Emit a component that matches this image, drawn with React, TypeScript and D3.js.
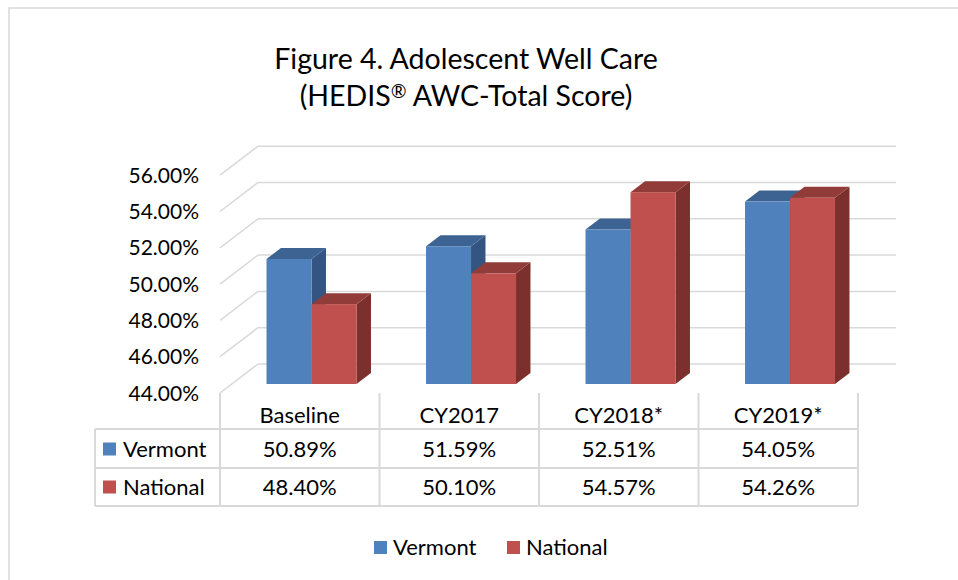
import React, { useEffect, useRef } from 'react';
import * as d3 from 'd3';

const categories = ['Baseline', 'CY2017', 'CY2018*', 'CY2019*'];
const seriesNames = ['Vermont', 'National'];
const vermont = [50.89, 51.59, 52.51, 54.05];
const national = [48.4, 50.1, 54.57, 54.26];
const yTicks = [44, 46, 48, 50, 52, 54, 56];

const FONT = "Lato, 'Open Sans', sans-serif";

const front = ['#4F81BD', '#C0504D'];
const topFace = ['#3C6391', '#923C3A'];
const sideFace = ['#345581', '#7C302E'];

const App: React.FC = () => {
 const svgRef = useRef<SVGSVGElement>(null);

 useEffect(() => {
 if (!svgRef.current) return;
 const svg = d3.select(svgRef.current);
 svg.selectAll('*').remove();

 const width = 958;
 const height = 580;
 const left = 220;
 const right = 858;
 const floorY = 393;
 const depth = { dx: 38, dy: -29 };

 svg.append('rect').attr('width', width).attr('height', height).attr('fill', '#fff');
 // chart border
 svg.append('rect').attr('x', 9).attr('y', 8).attr('width', 980).attr('height', 600)
 .attr('fill', 'none').attr('stroke', '#d9d9d9').attr('stroke-width', 1.5);

 // title
 const title = svg.append('text').attr('x', 466).attr('text-anchor', 'middle')
 .attr('font-family', FONT).attr('font-size', 28.5).attr('fill', '#000');
 title.append('tspan').attr('x', 466).attr('y', 69).text('Figure 4. Adolescent Well Care');
 const t2 = title.append('tspan').attr('x', 466).attr('y', 106);
 t2.append('tspan').text('(HEDIS');
 t2.append('tspan').attr('font-size', 19).attr('dy', -8).text('®');
 t2.append('tspan').attr('dy', 8).text(' AWC-Total Score)');

 const x = d3.scaleBand<string>().domain(categories).range([left, right]).paddingInner(0).paddingOuter(0);
 const y = d3.scaleLinear().domain([44, 56]).range([floorY, floorY - 6 * 36.3]);

 // back wall gridlines + side wall diagonals
 const grid = svg.append('g').attr('stroke', '#d9d9d9').attr('stroke-width', 1.5).attr('fill', 'none');
 yTicks.forEach((t) => {
 grid.append('line')
 .attr('x1', left + depth.dx).attr('x2', right + depth.dx)
 .attr('y1', y(t) + depth.dy).attr('y2', y(t) + depth.dy);
 grid.append('line')
 .attr('x1', left).attr('x2', left + depth.dx)
 .attr('y1', y(t)).attr('y2', y(t) + depth.dy);
 });

 // axis labels
 svg.append('g').selectAll('text').data(yTicks).enter().append('text')
 .attr('x', 199).attr('y', (d) => y(d) + 7.5)
 .attr('text-anchor', 'end').attr('font-family', FONT).attr('font-size', 21).attr('fill', '#000')
 .text((d) => d.toFixed(2) + '%');

 // bars
 const barW = 45;
 const f0 = 0.31;
 const f1 = 0.69;
 const ox = depth.dx * f0;
 const oy = depth.dy * f0;
 const bdx = depth.dx * (f1 - f0);
 const bdy = depth.dy * (f1 - f0);
 const inner = d3.scaleBand<string>().domain(seriesNames).range([0, barW * 2]);
 const data = [vermont, national];
 const bars = svg.append('g');
 categories.forEach((c, i) => {
 const cx = (x(c) as number) + x.bandwidth() / 2 + ox;
 seriesNames.forEach((s, k) => {
 const x0 = cx - barW + (inner(s) as number);
 const x1 = x0 + inner.bandwidth();
 const yt = y(data[k][i]) + oy;
 const yb = floorY + oy;
 const pts = (p: number[][]) => p.map((q) => q.join(',')).join(' ');
 bars.append('polygon').attr('fill', sideFace[k])
 .attr('points', pts([[x1, yt], [x1 + bdx, yt + bdy], [x1 + bdx, yb + bdy], [x1, yb]]));
 bars.append('polygon').attr('fill', topFace[k])
 .attr('points', pts([[x0, yt], [x1, yt], [x1 + bdx, yt + bdy], [x0 + bdx, yt + bdy]]));
 bars.append('rect').attr('x', x0).attr('y', yt).attr('width', x1 - x0).attr('height', yb - yt)
 .attr('fill', front[k]);
 });
 });

 // data table
 const tableLeft = 95;
 const rowY = [floorY, 429, 468, 506];
 const tbl = svg.append('g').attr('stroke', '#d9d9d9').attr('stroke-width', 2);
 [rowY[1], rowY[2], rowY[3]].forEach((ry) => {
 tbl.append('line').attr('x1', tableLeft).attr('x2', right).attr('y1', ry).attr('y2', ry);
 });
 tbl.append('line').attr('x1', tableLeft).attr('x2', tableLeft).attr('y1', rowY[1]).attr('y2', rowY[3]);
 [...categories.map((c) => x(c) as number), right].forEach((vx) => {
 tbl.append('line').attr('x1', vx).attr('x2', vx).attr('y1', floorY).attr('y2', rowY[3]);
 });

 const txt = svg.append('g').attr('font-family', FONT).attr('font-size', 22).attr('fill', '#000');
 categories.forEach((c, i) => {
 const mx = (x(c) as number) + x.bandwidth() / 2;
 txt.append('text').attr('x', mx).attr('y', 423).attr('text-anchor', 'middle').text(c);
 data.forEach((vals, k) => {
 txt.append('text').attr('x', mx).attr('y', [457, 495][k]).attr('text-anchor', 'middle')
 .text(vals[i].toFixed(2) + '%');
 });
 });
 seriesNames.forEach((s, k) => {
 const cy = [449, 487][k];
 svg.append('rect').attr('x', 103).attr('y', cy - 6.5).attr('width', 13).attr('height', 13).attr('fill', front[k]);
 txt.append('text').attr('x', 123).attr('y', cy + 8).text(s);
 });

 // legend
 const legendX = [374, 507];
 seriesNames.forEach((s, k) => {
 svg.append('rect').attr('x', legendX[k]).attr('y', 541).attr('width', 13).attr('height', 13).attr('fill', front[k]);
 txt.append('text').attr('x', legendX[k] + 19).attr('y', 555).text(s);
 });
 }, []);

 return (
 <svg ref={svgRef} width={958} height={580} style={{ position: 'absolute', left: 0, top: 0 }} />
 );
};

export default App;
